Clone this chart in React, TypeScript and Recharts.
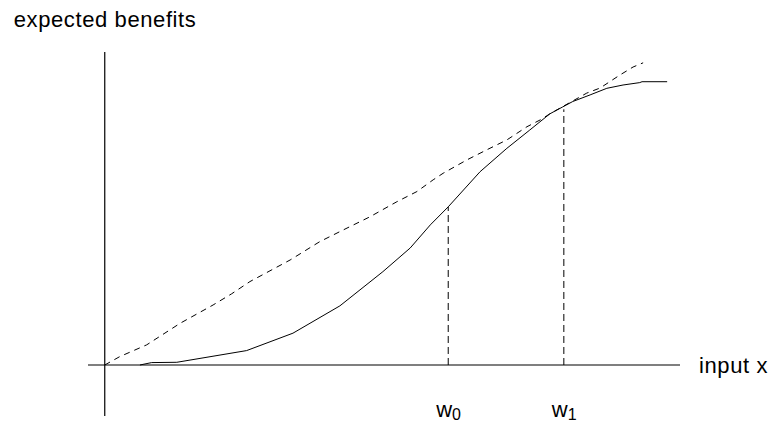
import React from 'react';
import { LineChart, Line, XAxis, YAxis, ReferenceLine } from 'recharts';

// expected benefits curve (solid) and the straight-ish comparison line (dashed)
const benefitX = [0.63, 0.84, 1.29, 2.54, 3.37, 4.21, 4.98, 5.47, 5.83, 6.15, 6.72, 7.2, 7.61, 7.97, 8.2, 8.38, 8.69, 8.99, 9.28, 9.58, 9.62, 10.07];
const benefitY = [0, 0.08, 0.09, 0.48, 1.06, 1.97, 3.11, 3.9, 4.67, 5.27, 6.44, 7.22, 7.83, 8.37, 8.6, 8.78, 9.0, 9.22, 9.33, 9.41, 9.44, 9.44];

const chordX = [0, 0.27, 0.75, 1.35, 1.94, 2.27, 2.6, 3.32, 3.85, 4.27, 4.75, 5.23, 5.59, 5.88, 6.06, 6.48, 6.84, 7.2, 7.56, 7.8, 7.97, 8.63, 8.87, 9.23, 9.46, 9.64];
const chordY = [0, 0.28, 0.67, 1.39, 2.0, 2.37, 2.78, 3.5, 4.11, 4.5, 4.94, 5.44, 5.78, 6.17, 6.39, 6.83, 7.17, 7.5, 7.94, 8.17, 8.37, 9.06, 9.23, 9.67, 9.93, 10.07];

// marked inputs and the benefit reached there
const markers = [
  { name: 'w', sub: '0', x: 6.15, y: 5.27 },
  { name: 'w', sub: '1', x: 8.22, y: 8.52 },
];

const benefitData = benefitX.map((x, i) => ({ x, y: benefitY[i] }));
const chordData = chordX.map((x, i) => ({ x, y: chordY[i] }));

const FONT = '"Liberation Sans", Arial, sans-serif';

const MarkerLabel = ({ viewBox, name, sub }: any) => {
  if (!viewBox) return null;
  const { x, y, height } = viewBox;
  return (
    <text x={x - 12} y={y + height + 1} fontFamily={FONT} fontSize={22} fill="#000">
      <tspan>{name}</tspan>
      <tspan fontSize={16} dy={3}>{sub}</tspan>
    </text>
  );
};

const XTitle = ({ viewBox }: any) => {
  if (!viewBox) return null;
  const { x, y, width } = viewBox;
  return (
    <text x={x + width + 19} y={y + 8} fontFamily={FONT} fontSize={22} letterSpacing={0.6} fill="#000">
      input x
    </text>
  );
};

const YTitle = ({ viewBox }: any) => {
  if (!viewBox) return null;
  const { x, y } = viewBox;
  return (
    <text x={x - 91} y={y - 25} fontFamily={FONT} fontSize={22} letterSpacing={0.6} fill="#000">
      expected benefits
    </text>
  );
};

export default function App() {
  return (
    <div style={{ position: 'absolute', left: 0, top: 0, width: 773, height: 423, background: '#fff' }}>
      <LineChart width={773} height={423} margin={{ top: 52, right: 93, bottom: 7, left: 88 }}>
        <XAxis type="number" dataKey="x" domain={[-0.3, 10.3]} allowDataOverflow hide />
        <YAxis type="number" dataKey="y" domain={[-1.7, 10.43]} allowDataOverflow hide />

        <ReferenceLine y={0} stroke="#000" strokeWidth={1.2} label={<XTitle />} />
        <ReferenceLine x={0} stroke="#000" strokeWidth={1.2} label={<YTitle />} />

        {markers.map((m) => (
          <ReferenceLine
            key={m.sub}
            segment={[{ x: m.x, y: 0 }, { x: m.x, y: m.y }]}
            stroke="#000"
            strokeWidth={1}
            strokeDasharray="7 4"
          />
        ))}
        {markers.map((m) => (
          <ReferenceLine
            key={'l' + m.sub}
            x={m.x}
            stroke="none"
            label={<MarkerLabel name={m.name} sub={m.sub} />}
          />
        ))}

        <Line
          data={chordData}
          dataKey="y"
          type="linear"
          stroke="#000"
          strokeWidth={1}
          strokeDasharray="6 5"
          dot={false}
          activeDot={false}
          isAnimationActive={false}
        />
        <Line
          data={benefitData}
          dataKey="y"
          type="linear"
          stroke="#000"
          strokeWidth={1}
          dot={false}
          activeDot={false}
          isAnimationActive={false}
        />
      </LineChart>
    </div>
  );
}
